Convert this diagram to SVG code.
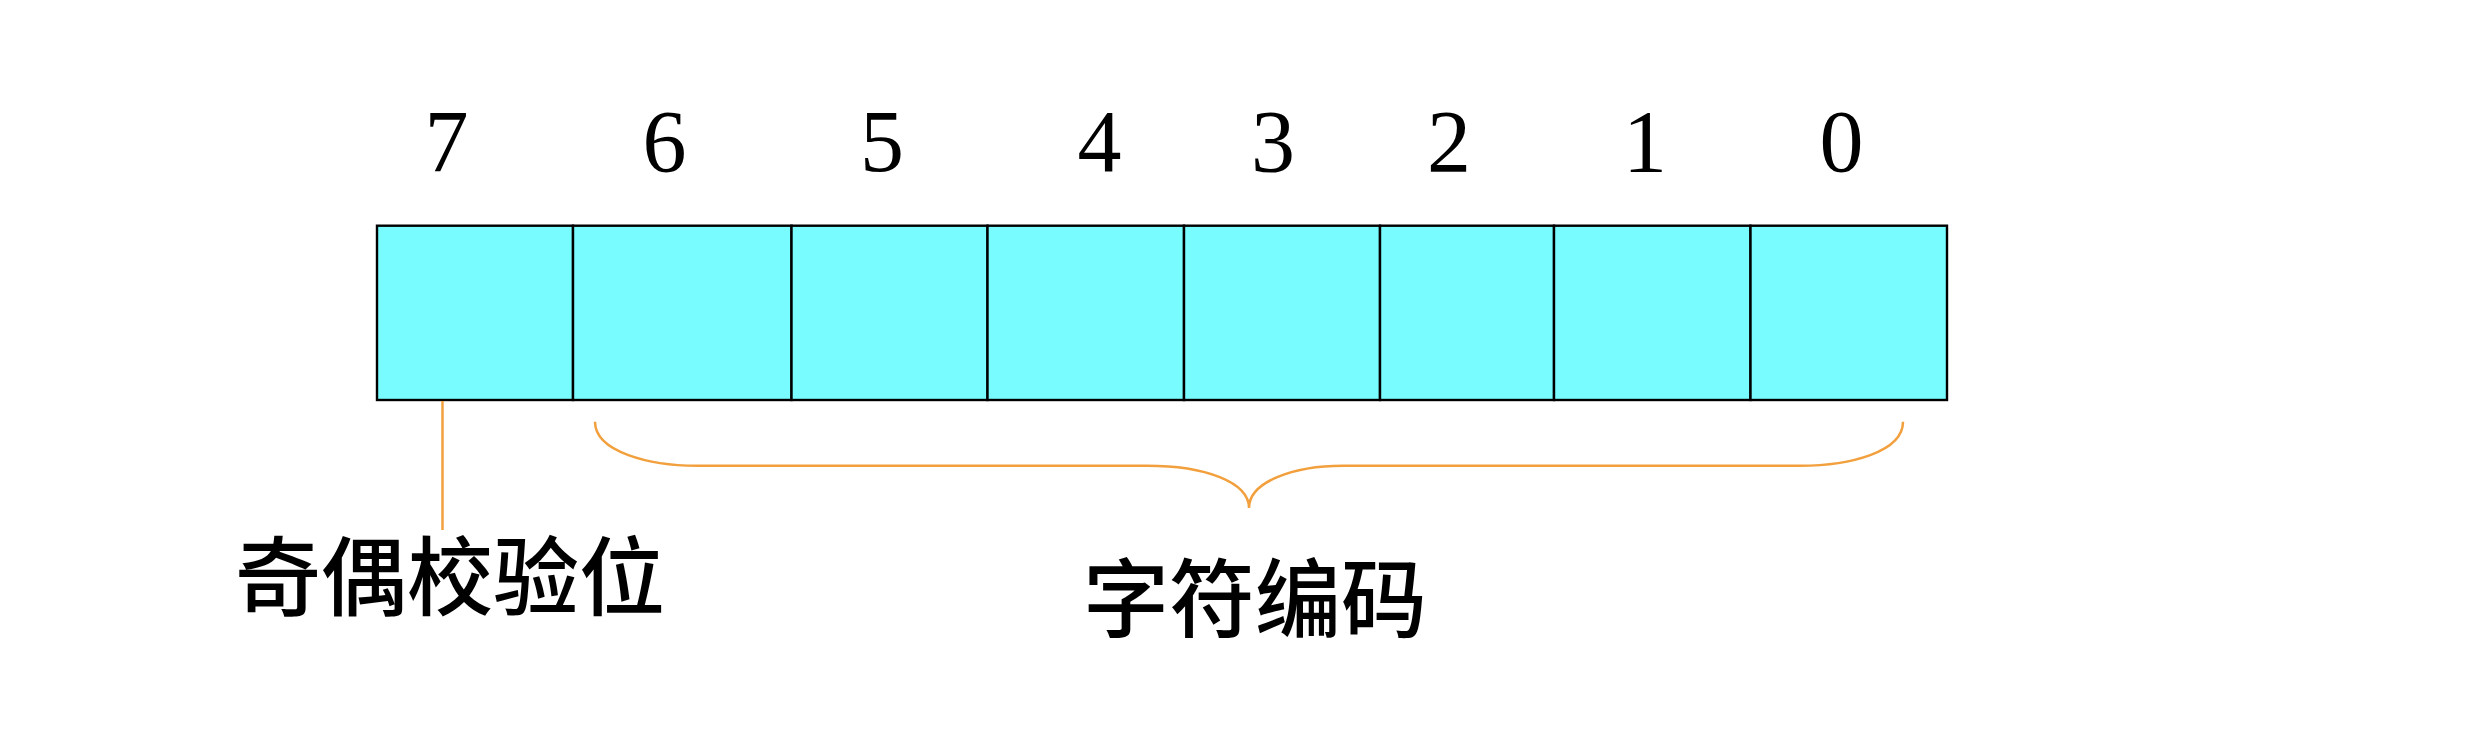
<svg xmlns="http://www.w3.org/2000/svg" width="2466" height="740" viewBox="0 0 2466 740">
<style>
.cell{fill:#78FCFF;stroke:#000;stroke-width:2.4}
.bit{font-family:"Liberation Serif","Times New Roman",serif;font-size:88px;fill:#000;text-anchor:middle}
.lbl{font-family:"Noto Sans CJK SC",sans-serif;font-size:86px;font-weight:500;fill:#000;text-anchor:middle}
.conn{fill:none;stroke:#F2A03D;stroke-width:2.5}
</style>
<rect width="2466" height="740" fill="#fff"/>
<g id="bit7"><rect class="cell" x="377" y="225.7" width="196" height="174.3"/><text class="bit" x="446.5" y="171">7</text></g>
<g id="bit6"><rect class="cell" x="573" y="225.7" width="218.5" height="174.3"/><text class="bit" x="664.5" y="171">6</text></g>
<g id="bit5"><rect class="cell" x="791.5" y="225.7" width="196" height="174.3"/><text class="bit" x="882" y="171">5</text></g>
<g id="bit4"><rect class="cell" x="987.5" y="225.7" width="196.5" height="174.3"/><text class="bit" x="1099.5" y="171">4</text></g>
<g id="bit3"><rect class="cell" x="1184" y="225.7" width="196" height="174.3"/><text class="bit" x="1273" y="171">3</text></g>
<g id="bit2"><rect class="cell" x="1380" y="225.7" width="174" height="174.3"/><text class="bit" x="1449" y="171">2</text></g>
<g id="bit1"><rect class="cell" x="1554" y="225.7" width="196.5" height="174.3"/><text class="bit" x="1645" y="171">1</text></g>
<g id="bit0"><rect class="cell" x="1750.5" y="225.7" width="196.5" height="174.3"/><text class="bit" x="1841.5" y="171">0</text></g>
<g id="parity-label"><text class="lbl" x="450" y="609">奇偶校验位</text></g>
<g id="code-label"><text class="lbl" x="1255" y="631">字符编码</text></g>
<g id="connectors">
<line class="conn" x1="442.5" y1="401" x2="442.5" y2="530"/>
<path class="conn" d="M595,421.7 C595,452 650,465.7 697,465.7 L1147,465.7 C1205,465.7 1249,482 1249,508 C1249,482 1293,465.7 1343,465.7 L1800,465.7 C1850,465.7 1903,452 1903,421.7"/>
</g>
</svg>
